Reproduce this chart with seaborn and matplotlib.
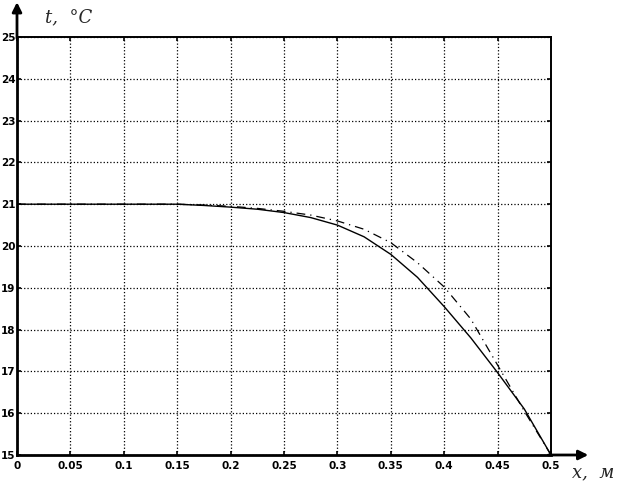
import matplotlib
matplotlib.use("Agg")
import matplotlib.pyplot as plt
import seaborn as sns
import pandas as pd
import numpy as np

# Температура по толщине: два расчёта
x_m = [0, 0.025, 0.05, 0.075, 0.1, 0.125, 0.15, 0.175, 0.2, 0.225, 0.25,
       0.275, 0.3, 0.325, 0.35, 0.375, 0.4, 0.425, 0.45, 0.475, 0.5]
t_solid = [21, 21, 21, 21, 21, 21, 21, 20.97, 20.93, 20.88, 20.8,
           20.68, 20.5, 20.22, 19.8, 19.25, 18.55, 17.8, 16.97, 16.1, 15]
t_dash = [21, 21, 21, 21, 21, 21, 21, 20.98, 20.95, 20.9, 20.83,
          20.74, 20.6, 20.4, 20.08, 19.6, 19.02, 18.25, 17.15, 16.05, 15]

x_ticks = [0, 0.05, 0.1, 0.15, 0.2, 0.25, 0.3, 0.35, 0.4, 0.45, 0.5]
x_ticklabels = ['0', '0.05', '0.1', '0.15', '0.2', '0.25', '0.3', '0.35', '0.4', '0.45', '0.5']
y_ticks = [15, 16, 17, 18, 19, 20, 21, 22, 23, 24, 25]

df = pd.DataFrame({'x': x_m, 'solid': t_solid, 'dash': t_dash})

sns.set_theme(style="white")
plt.rcParams['font.family'] = 'DejaVu Sans'

fig = plt.figure(figsize=(6.26, 4.84), dpi=100)
ax = fig.add_axes([17 / 626, 29 / 484, 534 / 626, 418 / 484])

sns.lineplot(data=df, x='x', y='solid', color='black', linewidth=1.0, ax=ax)
sns.lineplot(data=df, x='x', y='dash', color='black', linewidth=0.9,
             linestyle=(0, (7, 4, 1, 4)), ax=ax)

ax.set_xlim(0, 0.5)
ax.set_ylim(15, 25)
ax.set_xticks(x_ticks)
ax.set_xticklabels(x_ticklabels)
ax.set_yticks(y_ticks)
ax.set_xlabel('')
ax.set_ylabel('')
ax.grid(True, linestyle=':', color='black', linewidth=0.9)
ax.tick_params(axis='both', direction='in', length=3, width=1.2, colors='black',
               labelsize=7.5, top=True, right=True, bottom=True, left=True)
ax.tick_params(axis='x', pad=4)
ax.tick_params(axis='y', pad=1)
for lbl in ax.get_xticklabels() + ax.get_yticklabels():
    lbl.set_fontweight('bold')

for side in ['left', 'bottom']:
    ax.spines[side].set_linewidth(2.0)
    ax.spines[side].set_color('black')
for side in ['top', 'right']:
    ax.spines[side].set_linewidth(1.4)
    ax.spines[side].set_color('black')

# стрелки осей
ax.annotate('', xy=(0, 1.09), xytext=(0, 0.99), xycoords='axes fraction',
            arrowprops=dict(arrowstyle='-|>', color='black', lw=2, mutation_scale=14),
            annotation_clip=False)
ax.annotate('', xy=(1.075, 0), xytext=(0.99, 0), xycoords='axes fraction',
            arrowprops=dict(arrowstyle='-|>', color='black', lw=2, mutation_scale=14),
            annotation_clip=False)

fig.text(45 / 626, 1 - 17 / 484, 't,  °C', fontsize=13, style='italic',
         family='DejaVu Serif', va='center', ha='left')
fig.text(572 / 626, 1 - 472 / 484, 'x,  м', fontsize=13, style='italic',
         family='DejaVu Serif', va='center', ha='left')

fig.savefig('out.png', dpi=100)
